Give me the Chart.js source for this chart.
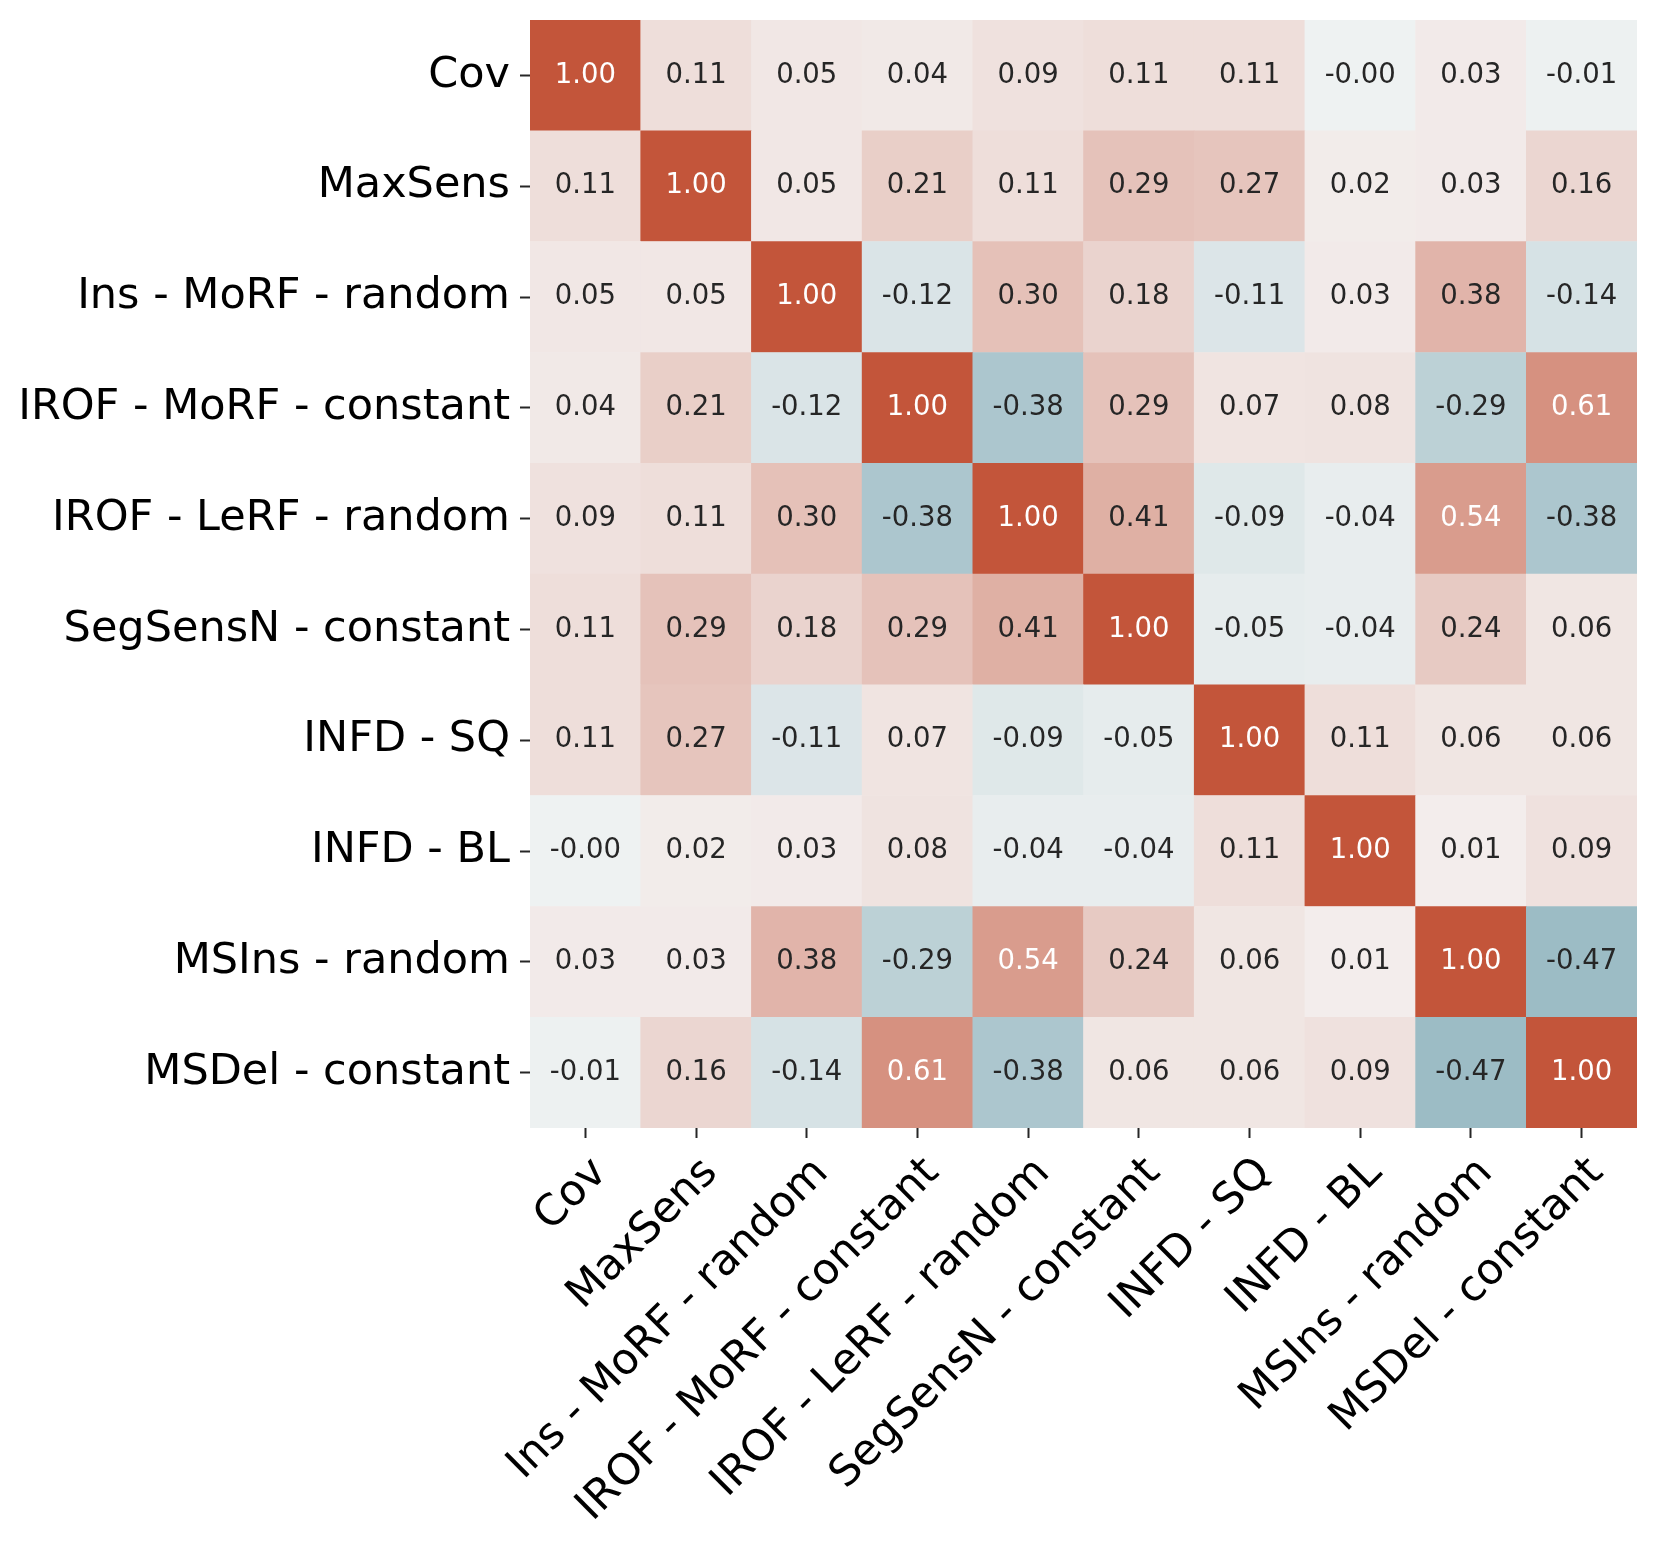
<!DOCTYPE html>
<html>
<head>
<meta charset="utf-8">
<script src="https://cdn.jsdelivr.net/npm/chart.js@4.4.1/dist/chart.umd.min.js"></script>
<style>
  html, body { margin: 0; padding: 0; background: #fff; }
</style>
</head>
<body>
<canvas id="chart" width="1661" height="1547"></canvas>
<script>
const metrics = ['Cov', 'MaxSens', 'Ins - MoRF - random', 'IROF - MoRF - constant', 'IROF - LeRF - random',
  'SegSensN - constant', 'INFD - SQ', 'INFD - BL', 'MSIns - random', 'MSDel - constant'];

// correlation rows
const rowCov      = [1.00, 0.11, 0.05, 0.04, 0.09, 0.11, 0.11, -0.004, 0.03, -0.01];
const rowMaxSens  = [0.11, 1.00, 0.05, 0.21, 0.11, 0.29, 0.27, 0.02, 0.03, 0.16];
const rowInsMoRF  = [0.05, 0.05, 1.00, -0.12, 0.30, 0.18, -0.11, 0.03, 0.38, -0.14];
const rowIrofMoRF = [0.04, 0.21, -0.12, 1.00, -0.38, 0.29, 0.07, 0.08, -0.29, 0.61];
const rowIrofLeRF = [0.09, 0.11, 0.30, -0.38, 1.00, 0.41, -0.09, -0.04, 0.54, -0.38];
const rowSegSensN = [0.11, 0.29, 0.18, 0.29, 0.41, 1.00, -0.05, -0.04, 0.24, 0.06];
const rowInfdSQ   = [0.11, 0.27, -0.11, 0.07, -0.09, -0.05, 1.00, 0.11, 0.06, 0.06];
const rowInfdBL   = [-0.004, 0.02, 0.03, 0.08, -0.04, -0.04, 0.11, 1.00, 0.01, 0.09];
const rowMSIns    = [0.03, 0.03, 0.38, -0.29, 0.54, 0.24, 0.06, 0.01, 1.00, -0.47];
const rowMSDel    = [-0.01, 0.16, -0.14, 0.61, -0.38, 0.06, 0.06, 0.09, -0.47, 1.00];

const corr = [rowCov, rowMaxSens, rowInsMoRF, rowIrofMoRF, rowIrofLeRF,
  rowSegSensN, rowInfdSQ, rowInfdBL, rowMSIns, rowMSDel];

// diverging palette (blue 220 / red 20), range -1..1
const red = [195, 85, 58], redGray = [243, 239, 238];
const blue = [63, 127, 147], blueGray = [239, 242, 242];
const mid = [242, 242, 242];

function cellColor(v) {
  let a, b, t;
  if (v > 0) { a = redGray; b = red; t = v; }
  else if (v < 0) { a = blueGray; b = blue; t = -v; }
  else return `rgb(${mid.join(',')})`;
  const c = a.map((x, i) => Math.round(x + (b[i] - x) * t));
  return `rgb(${c.join(',')})`;
}

const cells = [];
corr.forEach((row, r) => row.forEach((v, c) => cells.push({ x: c, y: r, v: v })));

const cellText = {
  id: 'cellText',
  afterDatasetsDraw(chart) {
    const ctx = chart.ctx;
    const meta = chart.getDatasetMeta(0);
    ctx.save();
    ctx.font = '27.5px "DejaVu Sans"';
    ctx.textAlign = 'center';
    ctx.textBaseline = 'middle';
    meta.data.forEach((pt, i) => {
      const v = cells[i].v;
      ctx.fillStyle = v > 0.5 ? '#ffffff' : '#262626';
      ctx.fillText(v.toFixed(2), pt.x, pt.y);
    });
    ctx.restore();
  }
};

const tickFont = { family: 'DejaVu Sans', size: 43 };
const tickGrid = { display: true, drawOnChartArea: false, drawTicks: true, tickLength: 10, tickWidth: 2, tickColor: '#262626' };
const setTicks = s => { s.ticks = metrics.map((_, i) => ({ value: i })); };
const cellRadius = ctx => {
  const a = ctx.chart.chartArea;
  return a ? (a.width / 10 + 0.6) / Math.SQRT2 : 1;
};

new Chart(document.getElementById('chart'), {
  type: 'scatter',
  data: {
    datasets: [{
      data: cells,
      pointStyle: 'rect',
      borderWidth: 0,
      backgroundColor: ctx => cellColor(ctx.raw.v),
      pointRadius: cellRadius,
      pointHoverRadius: cellRadius
    }]
  },
  options: {
    responsive: false,
    animation: false,
    layout: { padding: { top: 20, right: 24, left: 0, bottom: 0 } },
    plugins: { legend: { display: false }, tooltip: { enabled: false } },
    scales: {
      x: {
        type: 'linear', min: -0.5, max: 9.5, position: 'bottom',
        afterBuildTicks: setTicks,
        afterFit: s => { s.height = 419; s.paddingLeft = 0; s.paddingRight = 0; },
        ticks: { autoSkip: false, minRotation: 45, maxRotation: 45, padding: 10, labelOffset: 15,
          color: '#000', font: tickFont, callback: v => metrics[v] },
        grid: tickGrid,
        border: { display: false }
      },
      y: {
        type: 'linear', min: -0.5, max: 9.5, reverse: true,
        afterBuildTicks: setTicks,
        afterFit: s => { s.width = 530; s.paddingTop = 0; s.paddingBottom = 0; },
        ticks: { autoSkip: false, padding: 10, color: '#000', font: tickFont,
          callback: v => metrics[v] },
        grid: tickGrid,
        border: { display: false }
      }
    }
  },
  plugins: [cellText]
});
</script>
</body>
</html>
